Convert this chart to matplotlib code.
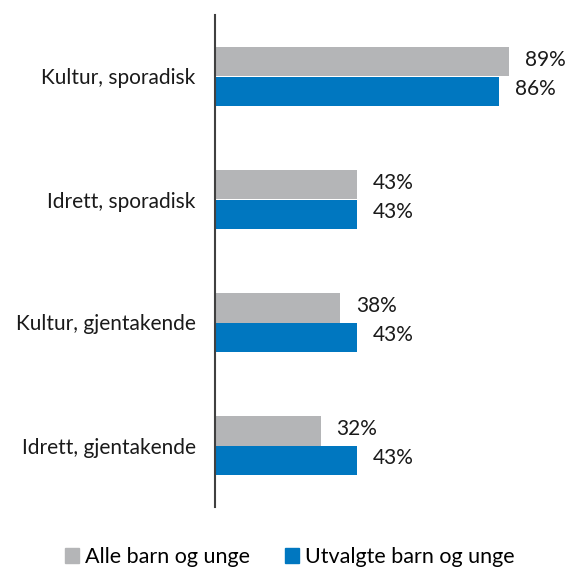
import matplotlib
matplotlib.use("Agg")
import matplotlib.pyplot as plt
import numpy as np
from matplotlib.patches import Patch

categories = ["Kultur, sporadisk", "Idrett, sporadisk", "Kultur, gjentakende", "Idrett, gjentakende"]
alle = [89, 43, 38, 32]
utvalgte = [86, 43, 43, 43]
series_names = ["Alle barn og unge", "Utvalgte barn og unge"]
colors = ["#B4B5B7", "#0077C0"]

plt.rcParams['font.family'] = ['Lato', 'DejaVu Sans']

W, H = 569, 567
fig = plt.figure(figsize=(W/100, H/100), dpi=100)
ax = fig.add_axes([215/W, (H-507)/H, (545-215)/W, (507-15)/H])

y = np.arange(len(categories))
h = 0.236
ax.barh(y - h/2, alle, height=h, color=colors[0])
ax.barh(y + h/2, utvalgte, height=h, color=colors[1])

for yi, v in zip(y, alle):
    ax.annotate(f"{v}%", (v, yi - h/2), xytext=(16, 2), textcoords="offset pixels",
                va="center", ha="left", fontsize=15, color="#1a1a1a")
for yi, v in zip(y, utvalgte):
    ax.annotate(f"{v}%", (v, yi + h/2), xytext=(16, 2), textcoords="offset pixels",
                va="center", ha="left", fontsize=15, color="#1a1a1a")

ax.set_xlim(0, 100)
ax.set_ylim(len(categories) - 0.5, -0.5)
ax.set_yticks(y)
ax.set_yticklabels(categories, fontsize=15, color="#1a1a1a")
ax.tick_params(axis="y", length=0, pad=14)
ax.set_xticks([])
for s in ["top", "right", "bottom"]:
    ax.spines[s].set_visible(False)
ax.spines["left"].set_color("#404040")
ax.spines["left"].set_linewidth(1.5)

handles = [Patch(color=c) for c in colors]
fig.legend(handles, series_names, loc="center", bbox_to_anchor=(290/W, 1 - 557/H),
           ncol=2, frameon=False, fontsize=15.5, handlelength=0.65, handleheight=0.65,
           handletextpad=0.3, columnspacing=1.6)

fig.savefig("out.png", dpi=100)
